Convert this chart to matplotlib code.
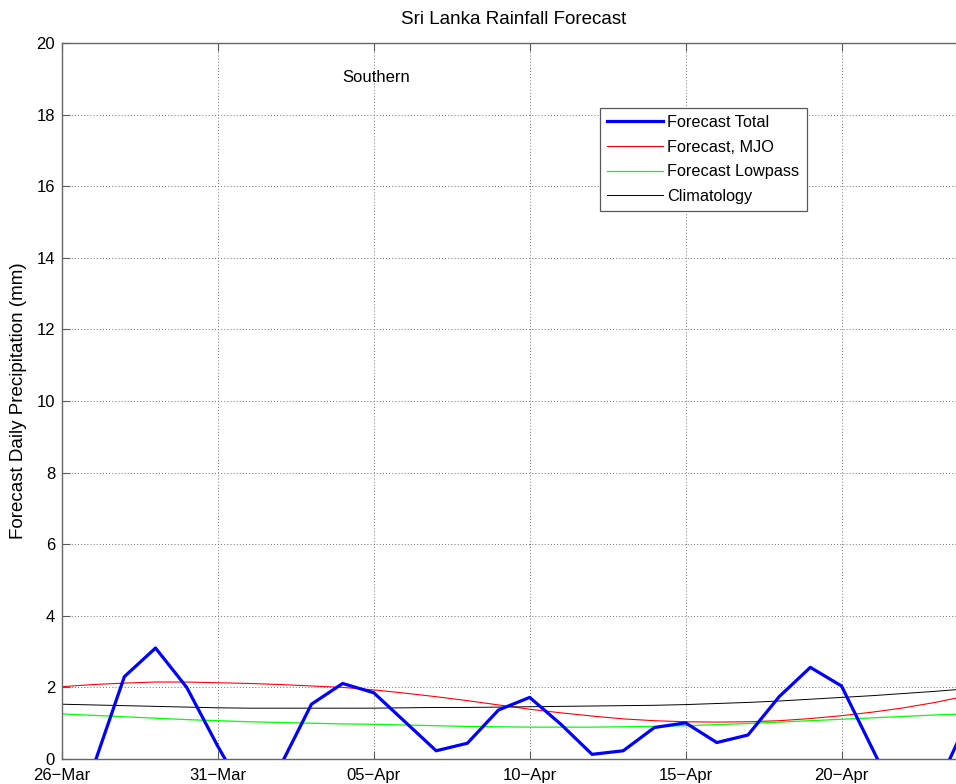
import numpy as np
import pandas as pd
import matplotlib
matplotlib.use('Agg')
import matplotlib.pyplot as plt
import matplotlib.dates as mdates

plt.rcParams['font.family'] = ['Liberation Sans', 'DejaVu Sans']

# daily values, starting 26-Mar
dates = pd.date_range('2014-03-26', periods=30, freq='D')
forecast_total = [-1.2, -0.23, 2.3, 3.1, 2.0, 0.35, -1.17, -0.2, 1.53, 2.11,
                  1.85, 1.04, 0.23, 0.44, 1.37, 1.72, 0.97, 0.13, 0.23, 0.88,
                  1.01, 0.46, 0.67, 1.74, 2.56, 2.04, 0.27, -1.5, -0.9, 1.0]
forecast_mjo = [2.02, 2.08, 2.12, 2.15, 2.15, 2.13, 2.11, 2.08, 2.04, 2.00,
                1.93, 1.84, 1.74, 1.63, 1.51, 1.39, 1.29, 1.20, 1.12, 1.07,
                1.04, 1.03, 1.04, 1.07, 1.13, 1.21, 1.31, 1.43, 1.58, 1.76]
forecast_lowpass = [1.26, 1.22, 1.18, 1.14, 1.10, 1.07, 1.04, 1.02, 1.00, 0.98,
                    0.97, 0.95, 0.93, 0.91, 0.90, 0.89, 0.89, 0.89, 0.90, 0.91,
                    0.93, 0.96, 0.99, 1.03, 1.07, 1.11, 1.15, 1.19, 1.23, 1.26]
climatology = [1.53, 1.51, 1.49, 1.47, 1.45, 1.43, 1.42, 1.42, 1.42, 1.42,
               1.42, 1.43, 1.44, 1.44, 1.45, 1.46, 1.47, 1.48, 1.49, 1.50,
               1.52, 1.55, 1.58, 1.62, 1.67, 1.72, 1.77, 1.83, 1.89, 1.96]
tick_dates = ['2014-03-26', '2014-03-31', '2014-04-05', '2014-04-10', '2014-04-15', '2014-04-20']

W, H = 956, 784
fig = plt.figure(figsize=(W / 100, H / 100), dpi=100)
ax = fig.add_axes([62 / W, 1 - 759 / H, (29 * 31.18) / W, (759 - 43) / H])

ax.plot(dates, forecast_total, color='#0000ff', lw=2.3, label='Forecast Total', zorder=5)
ax.plot(dates, forecast_mjo, color='#ff0000', lw=0.8, label='Forecast, MJO')
ax.plot(dates, forecast_lowpass, color='#00ff00', lw=0.9, label='Forecast Lowpass')
ax.plot(dates, climatology, color='black', lw=0.7, label='Climatology')

ax.set_xlim(dates[0], dates[-1])
ax.set_ylim(0, 20)
ax.set_yticks(np.arange(0, 21, 2))
ax.set_xticks(pd.to_datetime(tick_dates))
ax.xaxis.set_major_formatter(mdates.DateFormatter('%d\u2212%b'))

ax.grid(True, linestyle=(0, (1, 2.2)), color='0.45', lw=0.7)
ax.tick_params(direction='in', length=6, width=0.8, top=True, right=True,
               labelsize=12, color='0.35', pad=5)
ax.tick_params(axis='x', pad=6.5)
for s in ax.spines.values():
    s.set_color('0.4')
    s.set_linewidth(1.0)

ax.set_ylabel('Forecast Daily Precipitation (mm)', fontsize=13.5, labelpad=7)
fig.text(514 / W, 1 - 20 / H, 'Sri Lanka Rainfall Forecast', fontsize=13.5,
         ha='center', va='center')
fig.text(376.5 / W, 1 - 78 / H, 'Southern', fontsize=12, ha='center', va='center')

leg = ax.legend(loc='upper left', bbox_to_anchor=(600 / W, 1 - 107.5 / H),
                bbox_transform=fig.transFigure, borderaxespad=0, fancybox=False,
                framealpha=1, edgecolor='0.35', fontsize=11.7, handlelength=3.4,
                handletextpad=0.3, labelspacing=0.6, borderpad=0.45)
leg.get_frame().set_linewidth(0.9)

fig.savefig('out.png', dpi=100)
